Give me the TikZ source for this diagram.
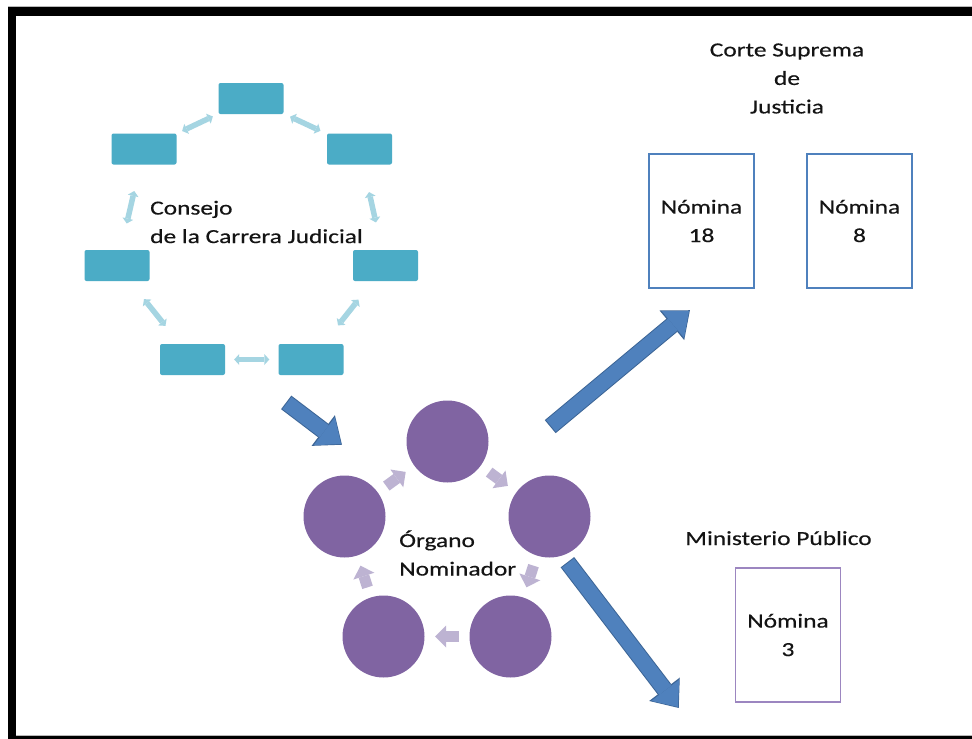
\documentclass[tikz,border=0pt]{standalone}
\usepackage{fontspec}
\setmainfont{Carlito}[FakeStretch=1.27,FakeBold=0.4]
\usetikzlibrary{arrows.meta}
\definecolor{teal1}{HTML}{4BACC6}
\definecolor{tealarr}{HTML}{A5D5E2}
\definecolor{purp}{HTML}{8064A2}
\definecolor{purparr}{HTML}{BDB3D2}
\definecolor{bigblue}{HTML}{4F81BD}
\definecolor{bigline}{HTML}{3C6596}
\definecolor{txt}{HTML}{141414}
\definecolor{mpline}{HTML}{9C86C0}
\begin{document}
\begin{tikzpicture}[x=1pt,y=1pt,
  every node/.style={font=\fontsize{20}{28.5}\selectfont, text=txt},
  rectbox/.style={fill=teal1, rounded corners=2pt, minimum width=65pt, minimum height=31pt, inner sep=0pt},
  circ/.style={circle, fill=purp, minimum size=82pt, inner sep=0pt},
  nomina/.style={draw=bigblue, line width=1.1pt, minimum width=105pt, minimum height=134pt, align=center, inner sep=0pt},
  dblarr/.style={draw=tealarr, line width=5.5pt, {Triangle[length=5pt,width=11pt,line width=0pt]}-{Triangle[length=5pt,width=11pt,line width=0pt]}},
  cycarr/.style={draw=purparr, line width=11pt, -{Triangle[length=11pt,width=22pt,line width=0pt]}, shorten <=10.5pt, shorten >=10.5pt},
  bigarr/.style={draw=bigblue, line width=15pt, -{Triangle[length=21pt,width=35pt,line width=0pt]},
    preaction={draw=bigline, line width=17pt, -{Triangle[length=23.5pt,width=38.5pt,line width=0pt]}, shorten >=-1.2pt, shorten <=-1pt}}
]
\useasboundingbox (0,0) rectangle (972,-739);
\fill[white] (0,0) rectangle (972,-739);
% frame
\draw[gray!55, line width=1pt] (8,-6.5) -- (972,-6.5);
\draw[gray!55, line width=1pt] (16,-735.5) -- (972,-735.5);
\fill[black] (8,-7) rectangle (972,-16);
\fill[black] (8,-7) rectangle (16,-739);
\fill[black] (16,-736) rectangle (972,-739);

% Consejo cycle
\node[rectbox] (t1) at (251,-98.5) {};
\node[rectbox] (t2) at (359.5,-149) {};
\node[rectbox] (t3) at (385.5,-265.5) {};
\node[rectbox] (t4) at (311,-359.5) {};
\node[rectbox] (t5) at (192.5,-359.5) {};
\node[rectbox] (t6) at (117,-265.5) {};
\node[rectbox] (t7) at (144,-149) {};
\draw[dblarr, shorten <=6pt, shorten >=6pt] (t1) -- (t7);
\draw[dblarr, shorten <=7pt, shorten >=7pt] (t1) -- (t2);
\draw[dblarr, shorten <=27pt, shorten >=27pt] (t7) -- (t6);
\draw[dblarr, shorten <=28pt, shorten >=28pt] (t2) -- (t3);
\draw[dblarr, shorten <=23pt, shorten >=23pt] (t6) -- (t5);
\draw[dblarr, shorten <=23.5pt, shorten >=23.5pt] (t3) -- (t4);
\draw[dblarr, shorten <=9pt, shorten >=9pt] (t5) -- (t4);
\node[anchor=west, align=left, inner sep=0pt] (consejo) at (150,-222) {Consejo\\de la Carrera Judicial};

% Organo cycle
\node[circ] (ct) at (447.5,-441.5) {};
\node[circ] (cr) at (549.5,-516.5) {};
\node[circ] (cbr) at (510.5,-636.5) {};
\node[circ] (cbl) at (383.5,-636.5) {};
\node[circ] (cl) at (344.5,-516.5) {};
\draw[cycarr] (cl) -- (ct);
\draw[cycarr] (ct) -- (cr);
\draw[cycarr] (cr) -- (cbr);
\draw[cycarr] (cbr) -- (cbl);
\draw[cycarr] (cbl) -- (cl);
\node[anchor=west, align=left, inner sep=0pt] (organo) at (399,-553) {Órgano\\Nominador};

% right side
\node[align=center] (corte) at (787,-78.5) {Corte Suprema\\de\\Justicia};
\node[nomina] (n18) at (701.5,-221) {Nómina\\18};
\node[nomina] (n8) at (859.5,-221) {Nómina\\8};
\node[anchor=base] (mp) at (778.5,-545) {Ministerio Público};
\node[nomina, draw=mpline] (n3) at (788,-635) {Nómina\\3};

% big arrows
\coordinate (a1s) at (287,-403);
\coordinate (a1e) at (341,-444);
\coordinate (a2s) at (551,-426);
\coordinate (a2e) at (689,-311);
\coordinate (a3s) at (568,-563);
\coordinate (a3e) at (678,-707);
\draw[bigarr] (a1s) -- (a1e);
\draw[bigarr] (a2s) -- (a2e);
\draw[bigarr] (a3s) -- (a3e);
\end{tikzpicture}
\end{document}
